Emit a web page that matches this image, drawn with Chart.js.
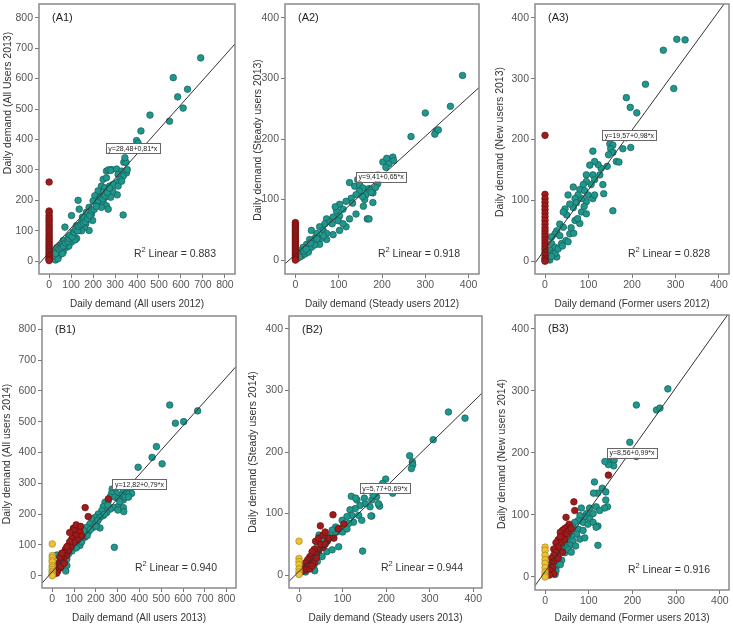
<!DOCTYPE html>
<html>
<head>
<meta charset="utf-8">
<script src="https://cdn.jsdelivr.net/npm/chart.js@4.4.1/dist/chart.umd.min.js"></script>
<style>
  body { margin: 0; background: #fff; }
  #wrap { position: relative; width: 733px; height: 624px; overflow: hidden; }
  #wrap canvas { position: absolute; }
</style>
</head>
<body>
<div id="wrap"></div>
<script>
// tick values
const ticks800 = [0, 100, 200, 300, 400, 500, 600, 700, 800];
const ticks400 = [0, 100, 200, 300, 400];

// panel texts
const panelNames = ['(A1)', '(A2)', '(A3)', '(B1)', '(B2)', '(B3)'];
const xTitles = ['Daily demand (All users 2012)', 'Daily demand (Steady users 2012)', 'Daily demand (Former users 2012)',
                 'Daily demand (All users 2013)', 'Daily demand (Steady users 2013)', 'Daily demand (Former users 2013)'];
const yTitles = ['Daily demand (All Users 2013)', 'Daily demand (Steady users 2013)', 'Daily demand (New users 2013)',
                 'Daily demand (All users 2014)', 'Daily demand (Steady users 2014)', 'Daily demand (New users 2014)'];

// fit lines
const intercepts = [28.48, 9.41, 19.57, 12.82, 5.77, 8.56];
const slopes = [0.81, 0.65, 0.98, 0.79, 0.69, 0.99];
const r2Values = ['0.883', '0.918', '0.828', '0.940', '0.944', '0.916'];

// A1 points [x, y]
const a1Teal = [[690,668],[565,603],[585,540],[630,565],[610,503],[548,460],[459,480],[418,428],[398,396],[405,388],[337,152],[310,218],
  [261,296],[284,301],[307,303],[330,296],[352,290],[356,301],[314,285],[337,279],[322,269],[307,258],[340,325],[350,325],[345,340],[270,300],[280,298],
  [246,269],[261,274],[238,247],[253,241],[276,247],[291,252],[223,231],[246,226],[268,231],[208,215],[231,209],[253,209],[200,198],[223,193],[246,193],[261,182],[238,177],[269,171],[314,247],[330,263],[290,230],[280,210],
  [132,200],[137,171],[182,177],[170,161],[193,155],[152,145],[182,140],[198,134],[102,150],[148,128],[167,123],[125,117],[72,112],[140,101],[182,101],[109,96],[160,110],[87,79],[125,75],[64,68],[102,63],[118,70],[49,52],[80,46],[148,100],[34,36],[64,30],[90,50],[19,25],[42,15],[60,25],[14,9],[29,4],[40,8],
  [10,15],[20,20],[25,30],[30,25],[35,45],[45,40],[55,45],[60,55],[65,50],[75,60],[85,65],[90,75],[95,85],[105,80],[115,95],[120,105],[130,100],[135,115],[145,120],[155,125],[165,130],[175,140],[185,150],[195,165],[205,170],[215,180],[225,200],[235,210],[245,205],[255,215],[265,225],[275,240]];
const a1Red = [260,165,160,150,142,135,128,120,112,105,98,90,83,76,70,63,56,50,44,38,32,26,20,15,10,5,2].map(v => [0, v]);

// A2 points
const a2Teal = [[386,305],[300,243],[358,254],[325,213],[322,208],[330,215],[267,204],
  [202,162],[211,168],[225,170],[227,164],[216,159],[209,153],[190,141],[190,126],[179,111],[179,95],[166,68],[170,68],[157,89],
  [125,128],[137,122],[144,133],[148,125],[156,119],[163,108],[160,100],[148,114],[140,108],[129,102],[132,94],[117,97],[102,92],[110,84],[95,81],[102,73],[87,71],[72,68],[68,60],[80,63],[56,55],[64,49],[49,44],[37,49],[45,36],[33,34],[26,26],[18,21],[11,15],[7,10],[15,7],[22,10],[37,21],[30,13],[56,26],[72,34],[87,42],[102,49],[117,55],[125,68],[140,76],[99,65],[110,60],[72,44],[60,36],
  [5,3],[10,5],[20,15],[25,18],[40,30],[45,25],[50,35],[35,28],[170,118],[175,112],[185,120],[155,105],[92,88],[85,60],[65,40]];
const a2Red = [62,59,56,53,50,47,44,41,38,35,32,29,26,23,20,17,14,11,8,5,2,0].map(v => [0, v]);

// A3 points
const a3Teal = [[303,365],[322,364],[272,347],[296,284],[231,291],[187,269],[196,253],[211,244],[197,187],[187,203],[156,83],
  [149,193],[156,191],[151,185],[156,179],[146,175],[179,185],[164,164],[170,163],[143,156],[129,153],[122,159],[110,181],[114,164],[103,158],[126,142],[110,142],[95,142],[133,126],[135,111],[114,134],[106,126],[95,131],[88,126],[80,118],[91,116],[99,109],[110,103],[114,109],[95,98],[84,103],[76,109],[69,103],[72,96],[65,88],[84,81],[65,122],[53,109],[57,94],[46,86],[50,76],[42,81],[34,61],[42,56],[27,50],[23,45],[34,42],[15,40],[15,29],[23,23],[11,18],[19,13],[8,7],[11,2],[27,7],[38,29],[48,34],[57,45],[69,67],[80,62],[95,78],[53,32],[66,46],[23,13],
  [5,3],[15,8],[30,20],[40,25],[60,55],[75,70],[90,90]];
const a3Red = [207,110,103,97,91,85,79,73,67,61,55,50,45,40,35,30,25,20,15,10,5,2,0].map(v => [0, v]);

// B1 points
const b1Teal = [[539,554],[565,495],[603,500],[667,535],[478,419],[458,384],[504,363],[394,352],[285,92],
  [295,287],[275,281],[356,278],[364,267],[341,267],[326,275],[318,262],[295,267],[272,267],[265,255],[288,255],[303,250],[326,246],[300,224],[326,221],[280,221],[257,243],[242,238],[234,224],[265,216],[250,205],[227,211],[211,200],[234,195],[196,189],[219,189],[181,184],[204,173],[173,168],[188,157],[219,155],[158,157],[165,141],[143,146],[150,125],[127,135],[120,114],[105,125],[97,103],[127,98],[82,92],[74,70],[44,65],[67,54],[59,38],[36,49],[21,33],[44,27],[67,33],[21,67],[62,15],
  [110,90],[135,110],[160,130],[175,150],[200,160],[240,200],[255,230],[210,180],[90,80],[140,125],[310,240],[335,255],[350,255],[328,208],[301,213]];
const b1Red = [[151,221],[257,249],[165,192],[120,159],[97,154],[105,138],[127,143],[135,128],[110,130],[90,120],[115,115],[100,108],[80,110],[70,95],[85,92],[60,85],[75,80],[55,75],[65,65],[45,70],[50,55],[40,48],[35,60],[30,40],[25,35],[20,28],[35,25],[15,20],[25,15],[10,12],[20,8],[5,5],[40,30],[55,40],[67,94],[44,73],[100,150],[80,140],[110,165],[130,160]];
const b1Yellow = [103,65,58,50,44,33,27,20,14,9,4,0].map(v => [0, v]);

// B2 points
const b2Teal = [[343,265],[381,255],[308,220],[254,194],[260,184],[261,179],[258,173],[199,156],[192,149],[215,133],[183,115],[185,112],[167,96],[146,39],
  [216,138],[180,141],[178,127],[167,122],[182,116],[163,111],[152,116],[140,113],[133,122],[129,108],[117,106],[121,97],[110,95],[137,97],[144,89],[165,96],[125,86],[114,84],[99,89],[102,78],[91,76],[84,78],[87,70],[76,73],[72,65],[64,62],[61,54],[53,57],[49,49],[42,46],[45,38],[38,35],[30,27],[26,19],[34,16],[23,11],[15,5],[42,22],[53,30],[64,38],[46,65],[76,41],[91,46],[34,11],[36,7],
  [120,128],[130,125],[100,70],[110,75],[150,125],[170,130]];
const b2Red = [[78,98],[49,80],[103,83],[38,55],[45,60],[55,65],[60,70],[65,55],[55,45],[45,40],[40,35],[35,42],[30,38],[25,30],[30,25],[20,25],[15,20],[20,15],[10,12],[15,8],[5,5],[25,10],[35,20],[50,50],[70,60],[60,50],[40,28],[30,15],[80,60],[90,75]];
const b2Yellow = [55,27,22,17,10,5,1].map(v => [0, v]);

// B3 points
const b3Teal = [[281,303],[209,277],[255,269],[263,272],[194,217],[209,194],[204,202],[146,185],[158,188],[157,179],[121,51],
  [145,181],[137,186],[113,153],[131,143],[120,135],[139,137],[111,135],[139,124],[143,113],[136,111],[102,111],[117,113],[125,107],[110,102],[95,102],[91,97],[102,94],[83,111],[80,99],[76,91],[87,88],[98,85],[110,88],[121,82],[117,80],[68,88],[64,80],[76,77],[87,75],[72,69],[61,66],[53,61],[64,58],[80,61],[91,63],[57,51],[45,56],[49,47],[38,47],[34,41],[45,39],[53,44],[30,33],[23,27],[19,19],[26,17],[15,12],[11,6],[23,4],[38,27],
  [25,10],[35,20],[60,40],[70,50]];
const b3Red = [[145,164],[66,121],[68,107],[48,96],[55,85],[50,80],[45,78],[40,75],[35,72],[40,65],[30,60],[35,55],[25,55],[30,48],[20,45],[25,40],[20,35],[15,30],[20,25],[15,22],[10,18],[18,15],[12,10],[20,5],[10,3],[30,30],[40,40],[45,60],[50,70],[55,75],[60,78],[35,65]];
const b3Yellow = [48,43,35,28,22,15,8,3,0].map(v => [0, v]);

const tealSets = [a1Teal, a2Teal, a3Teal, b1Teal, b2Teal, b3Teal];
const redSets = [a1Red, a2Red, a3Red, b1Red, b2Red, b3Red];
const yellowSets = [[], [], [], b1Yellow, b2Yellow, b3Yellow];

// canvas placement, plot areas and y-title centre (canvas pixels)
const layout = [
  { left: 0,   top: 0,   w: 240, h: 310, area: [39, 1, 235, 274],  yt: [8, 103],  range: [-46, 846, -42, 845], ticks: ticks800, eq: [381, 371] },
  { left: 240, top: 0,   w: 243, h: 310, area: [45, 1, 240, 274],  yt: [18, 140], range: [-24, 424, -23, 423], ticks: ticks400, eq: [198, 138] },
  { left: 480, top: 0,   w: 253, h: 310, area: [55, 1, 250, 274],  yt: [20, 142], range: [-23, 423, -21, 423], ticks: ticks400, eq: [194, 207] },
  { left: 0,   top: 305, w: 240, h: 319, area: [42, 11, 237, 283], yt: [7, 149],  range: [-47, 843, -40, 843], ticks: ticks800, eq: [400, 296] },
  { left: 240, top: 305, w: 246, h: 319, area: [49, 11, 244, 283], yt: [13, 147], range: [-23, 420, -21, 421], ticks: ticks400, eq: [197, 141] },
  { left: 480, top: 305, w: 253, h: 319, area: [55, 10, 251, 285], yt: [22, 149], range: [-23, 421, -21, 422], ticks: ticks400, eq: [199, 200] }
];

const FONT = '"Liberation Sans", Arial, sans-serif';
const comma = v => v.toFixed(2).replace('.', ',');
const toXY = arr => arr.map(p => ({ x: p[0], y: p[1] }));

const framePlugin = {
  id: 'frame',
  afterDatasetsDraw(chart) {
    const i = chart.options.plugins.frame.index;
    const L = layout[i];
    const { ctx, chartArea: a, scales } = chart;
    ctx.save();
    ctx.strokeStyle = '#8a8a8a';
    ctx.lineWidth = 1.5;
    ctx.strokeRect(a.left, a.top, a.right - a.left, a.bottom - a.top);

    // y title
    ctx.save();
    ctx.translate(L.yt[0], L.yt[1]);
    ctx.rotate(-Math.PI / 2);
    ctx.fillStyle = '#333';
    ctx.font = '10.5px ' + FONT;
    ctx.textAlign = 'center';
    ctx.textBaseline = 'middle';
    ctx.fillText(yTitles[i], 0, 0);
    ctx.restore();

    // panel label
    ctx.fillStyle = '#222';
    ctx.font = '11px ' + FONT;
    ctx.textAlign = 'left';
    ctx.textBaseline = 'middle';
    ctx.fillText(panelNames[i], a.left + 13, a.top + 14);

    // equation box
    const eqText = 'y=' + comma(intercepts[i]) + '+' + comma(slopes[i]) + '*x';
    ctx.font = '7px ' + FONT;
    const tw = ctx.measureText(eqText).width;
    const cx = scales.x.getPixelForValue(L.eq[0]);
    const cy = scales.y.getPixelForValue(L.eq[1]);
    const bw = tw + 5, bh = 10;
    ctx.fillStyle = '#fff';
    ctx.fillRect(cx - bw / 2, cy - bh / 2, bw, bh);
    ctx.strokeStyle = '#666';
    ctx.lineWidth = 1;
    ctx.strokeRect(Math.round(cx - bw / 2) + 0.5, Math.round(cy - bh / 2) + 0.5, Math.round(bw), bh);
    ctx.fillStyle = '#222';
    ctx.textAlign = 'center';
    ctx.fillText(eqText, cx, cy + 0.5);

    // R² text
    const rest = ' Linear = ' + r2Values[i];
    ctx.font = '10.5px ' + FONT;
    const wR = ctx.measureText('R').width;
    const wRest = ctx.measureText(rest).width;
    ctx.font = '7.5px ' + FONT;
    const w2 = ctx.measureText('2').width;
    const xEnd = a.right - 19;
    const yMid = a.bottom - 20;
    const x0 = xEnd - wR - w2 - wRest;
    ctx.textAlign = 'left';
    ctx.fillStyle = '#333';
    ctx.font = '10.5px ' + FONT;
    ctx.fillText('R', x0, yMid);
    ctx.font = '7.5px ' + FONT;
    ctx.fillText('2', x0 + wR, yMid - 4);
    ctx.font = '10.5px ' + FONT;
    ctx.fillText(rest, x0 + wR + w2, yMid);
    ctx.restore();
  }
};

const wrap = document.getElementById('wrap');

layout.forEach((L, i) => {
  const canvas = document.createElement('canvas');
  canvas.width = L.w;
  canvas.height = L.h;
  canvas.style.left = L.left + 'px';
  canvas.style.top = L.top + 'px';
  canvas.style.width = L.w + 'px';
  canvas.style.height = L.h + 'px';
  wrap.appendChild(canvas);

  const [xmin, xmax, ymin, ymax] = L.range;
  const a = intercepts[i], b = slopes[i];

  const pointStyle = (fill, edge) => ({
    type: 'scatter', backgroundColor: fill, borderColor: edge,
    borderWidth: 0.7, pointRadius: 3.3, pointHoverRadius: 3.3
  });

  new Chart(canvas, {
    type: 'scatter',
    data: {
      datasets: [
        {
          type: 'line',
          data: [{ x: xmin, y: a + b * xmin }, { x: xmax, y: a + b * xmax }],
          borderColor: '#333', borderWidth: 1, pointRadius: 0, fill: false
        },
        Object.assign({ data: toXY(yellowSets[i]) }, pointStyle('#f0c232', '#a5851c')),
        Object.assign({ data: toXY(redSets[i]) }, pointStyle('#a01b1b', '#6a1010')),
        Object.assign({ data: toXY(tealSets[i]) }, pointStyle('#1f978c', '#155e57'))
      ]
    },
    options: {
      responsive: false,
      animation: false,
      devicePixelRatio: 1,
      layout: { padding: { left: 0, top: L.area[1], right: L.w - L.area[2], bottom: 0 } },
      plugins: { legend: { display: false }, tooltip: { enabled: false }, frame: { index: i } },
      scales: {
        x: {
          type: 'linear', min: xmin, max: xmax,
          afterBuildTicks: s => { s.ticks = L.ticks.map(v => ({ value: v })); },
          afterFit: s => { s.height = L.h - L.area[3]; s.paddingLeft = 0; s.paddingRight = 0; },
          grid: { drawOnChartArea: false, drawTicks: true, tickLength: 4, color: '#777' },
          border: { display: false },
          ticks: { autoSkip: false, maxRotation: 0, padding: 1, color: '#555', font: { size: 10.5, family: FONT } },
          title: { display: true, text: xTitles[i], color: '#333', padding: 0, font: { size: 10, family: FONT } }
        },
        y: {
          type: 'linear', min: ymin, max: ymax,
          afterBuildTicks: s => { s.ticks = L.ticks.map(v => ({ value: v })); },
          afterFit: s => { s.width = L.area[0]; s.paddingTop = 0; s.paddingBottom = 0; },
          grid: { drawOnChartArea: false, drawTicks: true, tickLength: 4, color: '#777' },
          border: { display: false },
          ticks: { autoSkip: false, padding: 2, color: '#555', font: { size: 10.5, family: FONT } }
        }
      }
    },
    plugins: [framePlugin]
  });
});
</script>
</body>
</html>
